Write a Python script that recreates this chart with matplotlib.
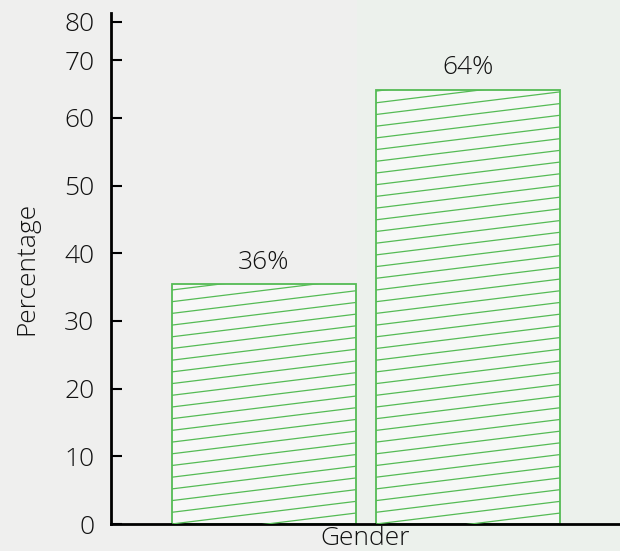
import matplotlib
matplotlib.use("Agg")
import matplotlib.pyplot as plt
import numpy as np
from matplotlib.patches import Rectangle
from matplotlib.collections import LineCollection
from matplotlib.transforms import Affine2D

categories = ["Female", "Male"]
values = [35.4, 64.1]
bar_labels = ["36%", "64%"]
ytick_values = [0, 10, 20, 30, 40, 50, 60, 68.5, 74.2]
ytick_labels = ["0", "10", "20", "30", "40", "50", "60", "70", "80"]

plt.rcParams['font.family'] = ['Open Sans', 'DejaVu Sans']
FONT_W = 'light'
FS = 19
TXT = '#111111'
GREEN = '#55bb55'

fig = plt.figure(figsize=(6.2, 5.51), dpi=100)
fig.patch.set_facecolor('#efefee')
fig.patches.append(Rectangle((0.575, 0), 0.425, 1, transform=fig.transFigure,
                             facecolor='#ecf1ec', edgecolor='none', zorder=-10))

ax = fig.add_axes([111/620, 27/551, 1 - 111/620, 511/551])
ax.patch.set_alpha(0)
ax.set_xlim(-0.748, 1.745)
ax.set_ylim(0, 75.5)

x = np.arange(len(categories))
bars = ax.bar(x, values, width=0.9, facecolor=(1, 1, 1, 0.55), edgecolor=GREEN,
              linewidth=1.3, zorder=2)

# shallow hatch lines clipped to each bar (pixel geometry)
fig.canvas.draw()
slope = 0.123
spacing = 11.7
inv = ax.transData.inverted()
for b in bars:
    (x0, y0), (x1, y1) = ax.transData.transform([(b.get_x(), 0), (b.get_x() + b.get_width(), b.get_height())])
    segs = []
    k = -int((x1 - x0) * slope / spacing) - 2
    while True:
        yl = y0 + k * spacing
        if yl > y1 + 2:
            break
        segs.append([(x0, yl), (x1, yl + slope * (x1 - x0))])
        k += 1
    segs_d = [inv.transform(s) for s in segs]
    lc = LineCollection(segs_d, colors=GREEN, linewidths=0.9, zorder=3)
    ax.add_collection(lc)
    clip = Rectangle((b.get_x(), 0), b.get_width(), b.get_height(), transform=ax.transData)
    lc.set_clip_path(clip)

for b, lab in zip(bars, bar_labels):
    ax.annotate(lab, (b.get_x() + b.get_width() / 2, b.get_height()),
                xytext=(0, 7), textcoords='offset points', ha='center', va='bottom',
                fontsize=FS, color=TXT, fontweight=FONT_W)

ax.set_yticks(ytick_values)
ax.set_yticklabels(ytick_labels, fontsize=FS, color=TXT, fontweight=FONT_W)
ax.set_xticks([])
ax.tick_params(axis='y', direction='in', length=8, width=1.5, pad=12)
for s in ['top', 'right']:
    ax.spines[s].set_visible(False)
ax.spines['left'].set_linewidth(2)
ax.spines['bottom'].set_linewidth(2)
ax.spines['left'].set_color('black')
ax.spines['bottom'].set_color('black')

ax.set_xlabel("Gender", fontsize=FS, color=TXT, fontweight=FONT_W)
ax.xaxis.label.set_va('baseline')
ax.xaxis.set_label_coords(0.5, -21 / 511)
ax.set_ylabel("Percentage", fontsize=FS, color=TXT, fontweight=FONT_W, labelpad=18)

fig.savefig("out.png", dpi=100, facecolor=fig.get_facecolor())
